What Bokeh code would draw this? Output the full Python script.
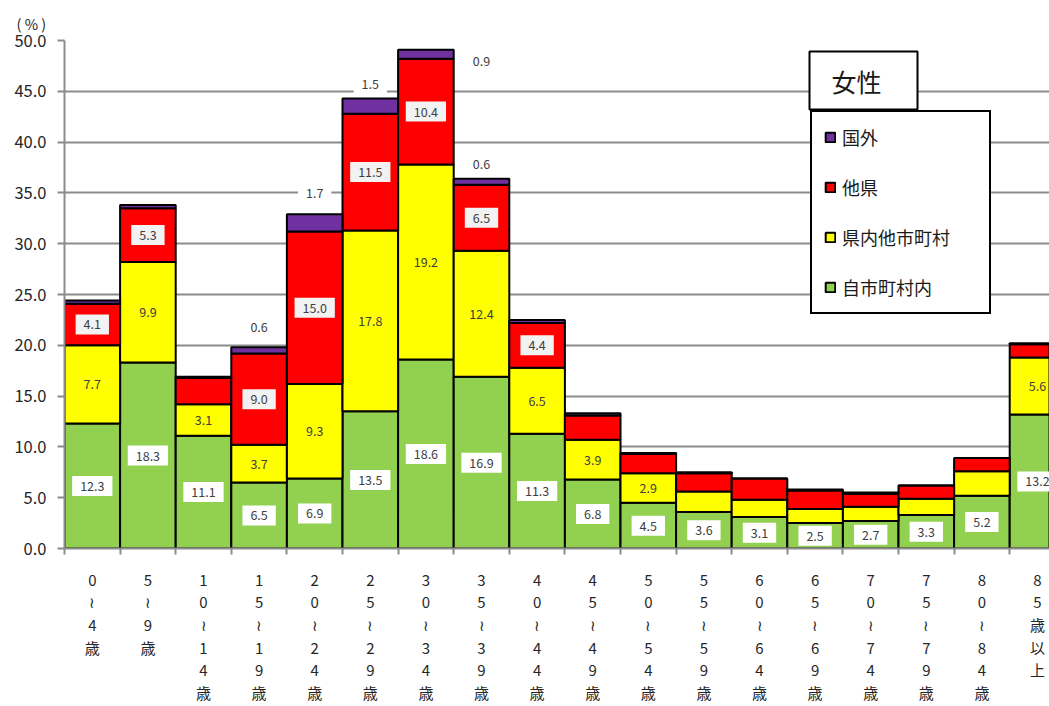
from bokeh.plotting import figure
from bokeh.models import (FixedTicker, Legend, LegendItem, BoxAnnotation, Label,
                          ColumnDataSource, Range1d, NumeralTickFormatter)
from bokeh.core.properties import value
from bokeh.embed import file_html
from bokeh.resources import INLINE

# ---------------- data ----------------
age_groups = ["0～4歳", "5～9歳", "10～14歳", "15～19歳", "20～24歳", "25～29歳",
              "30～34歳", "35～39歳", "40～44歳", "45～49歳", "50～54歳", "55～59歳",
              "60～64歳", "65～69歳", "70～74歳", "75～79歳", "80～84歳", "85歳以上"]
tick_labels = ["0\n≀\n4\n歳", "5\n≀\n9\n歳",
               "1\n0\n≀\n1\n4\n歳", "1\n5\n≀\n1\n9\n歳", "2\n0\n≀\n2\n4\n歳",
               "2\n5\n≀\n2\n9\n歳", "3\n0\n≀\n3\n4\n歳", "3\n5\n≀\n3\n9\n歳",
               "4\n0\n≀\n4\n4\n歳", "4\n5\n≀\n4\n9\n歳", "5\n0\n≀\n5\n4\n歳",
               "5\n5\n≀\n5\n9\n歳", "6\n0\n≀\n6\n4\n歳", "6\n5\n≀\n6\n9\n歳",
               "7\n0\n≀\n7\n4\n歳", "7\n5\n≀\n7\n9\n歳", "8\n0\n≀\n8\n4\n歳",
               "8\n5\n歳\n以\n上"]
series_names = ["自市町村内", "県内他市町村", "他県", "国外"]
jishi   = [12.3, 18.3, 11.1, 6.5, 6.9, 13.5, 18.6, 16.9, 11.3, 6.8, 4.5, 3.6, 3.1, 2.5, 2.7, 3.3, 5.2, 13.2]
kennai  = [7.7, 9.9, 3.1, 3.7, 9.3, 17.8, 19.2, 12.4, 6.5, 3.9, 2.9, 2.0, 1.7, 1.4, 1.4, 1.6, 2.4, 5.6]
taken   = [4.1, 5.3, 2.6, 9.0, 15.0, 11.5, 10.4, 6.5, 4.4, 2.4, 1.9, 1.8, 2.1, 1.8, 1.3, 1.3, 1.3, 1.3]
kokugai = [0.3, 0.3, 0.1, 0.6, 1.7, 1.5, 0.9, 0.6, 0.3, 0.2, 0.1, 0.1, 0.0, 0.1, 0.1, 0.0, 0.0, 0.1]
y_ticks = [0, 5, 10, 15, 20, 25, 30, 35, 40, 45, 50]

# which segments carry a data label
labeled = {
    "自市町村内": list(range(18)),
    "県内他市町村": [0, 1, 2, 3, 4, 5, 6, 7, 8, 9, 10, 17],
    "他県": [0, 1, 3, 4, 5, 6, 7, 8],
    "国外": [3, 4, 5, 6, 7],
}

# ---------------- style ----------------
FONT = "Noto Sans CJK JP"
colors = {"自市町村内": "#92D050", "県内他市町村": "#FFFF00", "他県": "#FF0000", "国外": "#7030A0"}
label_bg = {"自市町村内": "#FFFFFF", "県内他市町村": None, "他県": "#F2F2F2", "国外": "#FFFFFF"}
BAR_PX = 55.6      # pixel width of one category
PX_PER_UNIT = 10.16
FRAME_LEFT, FRAME_TOP, FRAME_BOTTOM = 64, 40, 548
W, H = 1049, 706
FRAME_W = W - FRAME_LEFT
# purple labels: (dx in categories, dy in pixels above the bar top)
purple_label_shift = {3: (0, 20), 4: (0, 21), 5: (0, 14), 6: (1, -11), 7: (0, 15)}

n = len(age_groups)
xs = list(range(n))
source = ColumnDataSource(dict(x=xs, 自市町村内=jishi, 県内他市町村=kennai, 他県=taken, 国外=kokugai))

p = figure(width=W, height=H, output_backend="svg", toolbar_location=None,
           x_range=Range1d(-0.5, -0.5 + FRAME_W / BAR_PX), y_range=Range1d(0, 50),
           min_border_left=FRAME_LEFT, min_border_right=0, min_border_top=FRAME_TOP,
           min_border_bottom=H - FRAME_BOTTOM)
p.outline_line_color = None
p.background_fill_color = "white"

# "(%)" unit label as title
p.title.text = "( % )"
p.title.align = "left"
p.title.offset = -48
p.title.standoff = 13
p.title.text_font = FONT
p.title.text_font_size = "14.5px"
p.title.text_font_style = "normal"
p.title.text_color = "#262626"

renderers = p.vbar_stack(series_names, x="x", width=1.0, source=source,
                         fill_color=[colors[s] for s in series_names],
                         line_color="black", line_width=2)

# data labels
series_vals = {"自市町村内": jishi, "県内他市町村": kennai, "他県": taken, "国外": kokugai}
cum = [0.0] * n
for s in series_names:
    vals = series_vals[s]
    lx, ly, lt = [], [], []
    for i in labeled[s]:
        if s == "国外":
            dx, dy = purple_label_shift[i]
            lx.append(i + dx)
            ly.append(cum[i] + vals[i] + dy / PX_PER_UNIT)
        else:
            lx.append(i)
            ly.append(cum[i] + vals[i] / 2)
        lt.append(f"{vals[i]:.1f}")
    kw = {}
    if label_bg[s] is not None:
        kw = dict(background_fill_color=label_bg[s],
                  padding=dict(left=8, right=8, top=5, bottom=5))
    p.text(x=lx, y=ly, text=lt, text_align="center", text_baseline="middle",
           text_font=value(FONT), text_font_size="12.5px", text_color="#404040", **kw)
    cum = [c + v for c, v in zip(cum, vals)]

# axes
p.xgrid.visible = False
p.ygrid.grid_line_color = "#8C8C8C"
p.ygrid.grid_line_width = 2
p.yaxis.ticker = FixedTicker(ticks=y_ticks)
p.yaxis.formatter = NumeralTickFormatter(format="0.0")
p.yaxis.axis_line_color = "#8C8C8C"
p.yaxis.axis_line_width = 2
p.yaxis.major_tick_line_color = "#8C8C8C"
p.yaxis.major_tick_line_width = 2
p.yaxis.major_tick_out = 7
p.yaxis.major_tick_in = 0
p.yaxis.minor_tick_line_color = None
p.yaxis.major_label_text_font = FONT
p.yaxis.major_label_text_font_size = "16.5px"
p.yaxis.major_label_text_color = "#262626"
p.yaxis.major_label_standoff = 11

p.xaxis.ticker = FixedTicker(ticks=xs, minor_ticks=[i - 0.5 for i in range(n + 1)])
p.xaxis.major_label_overrides = {i: t for i, t in zip(xs, tick_labels)}
p.xaxis.axis_line_color = "#8C8C8C"
p.xaxis.axis_line_width = 2
p.xaxis.major_tick_line_color = None
p.xaxis.major_tick_out = 0
p.xaxis.major_tick_in = 0
p.xaxis.minor_tick_line_color = "#8C8C8C"
p.xaxis.minor_tick_line_width = 2
p.xaxis.minor_tick_out = 6
p.xaxis.minor_tick_in = 0
p.xaxis.major_label_text_font = FONT
p.xaxis.major_label_text_font_size = "15px"
p.xaxis.major_label_text_color = "#262626"
p.xaxis.major_label_text_line_height = 1.08
p.xaxis.major_label_standoff = 14

# legend
items = [LegendItem(label=s, renderers=[renderers[series_names.index(s)]])
         for s in ["国外", "他県", "県内他市町村", "自市町村内"]]
legend = Legend(items=items, location=(746, 234), orientation="vertical",
                border_line_color="black", border_line_width=2, border_line_alpha=1,
                background_fill_color="white", background_fill_alpha=1,
                label_text_font=FONT, label_text_font_size="18px", label_text_color="#1A1A1A",
                glyph_width=12, glyph_height=12, label_height=20, spacing=24,
                padding=12, label_standoff=6, label_width=135, margin=0)
p.add_layout(legend)


def px_x(px):
    return (px - FRAME_LEFT) / BAR_PX - 0.5


def px_y(py):
    return (FRAME_BOTTOM - py) / PX_PER_UNIT


title_box = BoxAnnotation(left=px_x(809), right=px_x(917), top=px_y(51), bottom=px_y(109),
                          fill_color="white", fill_alpha=1, line_color="black",
                          line_alpha=1, line_width=2)
p.add_layout(title_box)
p.add_layout(Label(x=px_x(856), y=px_y(80), text="女性", text_align="center",
                   text_baseline="middle", text_font=FONT, text_font_size="25px",
                   text_color="#1A1A1A"))

open("out.html", "w").write(file_html(p, INLINE))
